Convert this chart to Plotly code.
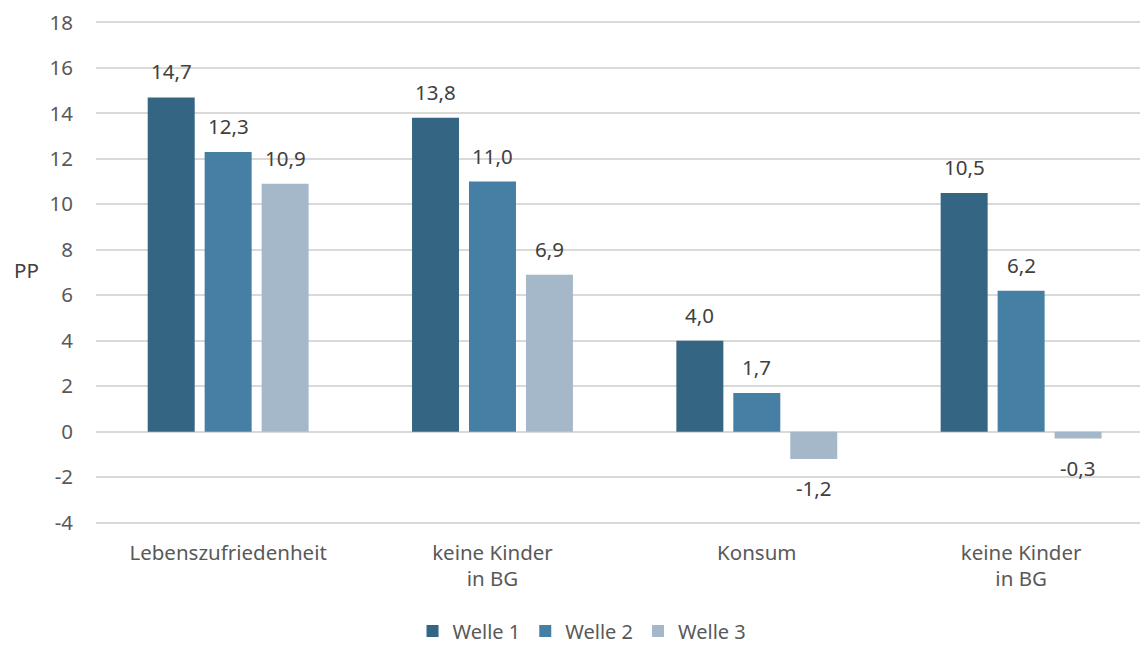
import plotly.graph_objects as go

categories = ["Lebenszufriedenheit", "keine Kinder<br>in BG", "Konsum", "keine Kinder<br>in BG"]
series_names = ["Welle 1", "Welle 2", "Welle 3"]
welle1 = [14.7, 13.8, 4.0, 10.5]
welle2 = [12.3, 11.0, 1.7, 6.2]
welle3 = [10.9, 6.9, -1.2, -0.3]
y_ticks = [-4, -2, 0, 2, 4, 6, 8, 10, 12, 14, 16, 18]
y_ticktext = [str(t) for t in y_ticks]

colors = ["#346582", "#457fa3", "#a5b8c9"]
FONT = "Noto Sans"
FS = 20.5
BARGAP = 0.3535
BARGROUPGAP = 0.175

x_pos = list(range(len(categories)))
series = [welle1, welle2, welle3]

fig = go.Figure()
for name, vals, col in zip(series_names, series, colors):
    fig.add_trace(go.Bar(x=x_pos, y=vals, name=name, marker=dict(color=col, line=dict(width=0))))

def fmt(v):
    return f"{v:.1f}".replace(".", ",")

slot = (1 - BARGAP) / len(series)
annotations = []
for k, vals in enumerate(series):
    off = (k - (len(series) - 1) / 2) * slot
    for i, v in enumerate(vals):
        annotations.append(dict(
            x=i + off, y=v, xref="x", yref="y", text=fmt(v), showarrow=False,
            yshift=26 if v >= 0 else -29, yanchor="middle", xanchor="center",
            font=dict(family=FONT, size=FS, color="#404040")))

annotations.append(dict(x=-0.08, y=0.504, xref="paper", yref="paper", text="PP",
                        showarrow=False, xanchor="left", yanchor="middle",
                        font=dict(family=FONT, size=FS, color="#404040")))

fig.update_layout(
    width=1140, height=637,
    margin=dict(l=88, r=0, t=13, b=121, autoexpand=False),
    paper_bgcolor="white", plot_bgcolor="white",
    barmode="group", bargap=BARGAP, bargroupgap=BARGROUPGAP,
    font=dict(family=FONT, size=FS, color="#595959"),
    showlegend=True,
    legend=dict(orientation="h", x=0.462, xanchor="center", y=-0.2127, yanchor="middle",
                font=dict(family=FONT, size=20, color="#595959"), itemwidth=30),
    annotations=annotations,
    xaxis=dict(tickmode="array", tickvals=x_pos, ticktext=categories, automargin=False,
               range=[-0.5, 3.48], showgrid=False, zeroline=False, showline=False,
               ticks="", ticklabelstandoff=14,
               tickfont=dict(family=FONT, size=FS, color="#595959")),
    yaxis=dict(range=[-4.06, 18.06], tickmode="array", tickvals=y_ticks, ticktext=y_ticktext,
               automargin=False, ticklabeloverflow="allow",
               showgrid=True, gridcolor="#d9d9d9", gridwidth=1.5,
               zeroline=True, zerolinecolor="#d9d9d9", zerolinewidth=1.5,
               showline=False, ticks="", ticklabelstandoff=22,
               tickfont=dict(family=FONT, size=FS, color="#595959")),
)

fig.write_html("out.html")
